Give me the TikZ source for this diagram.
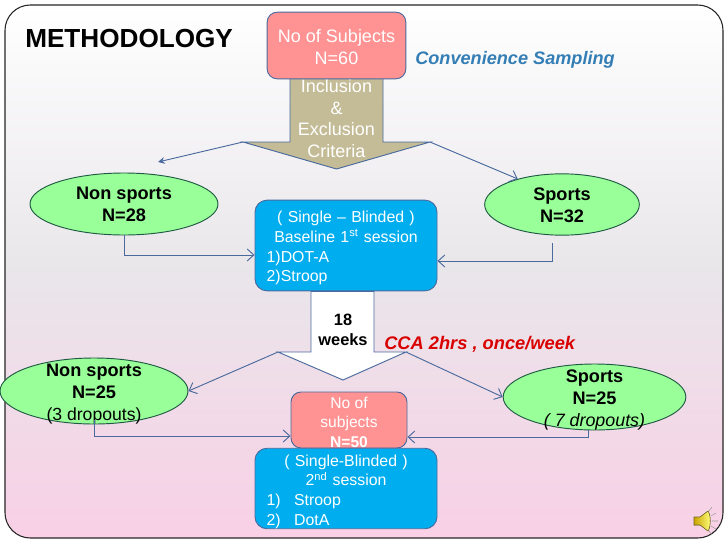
\documentclass[tikz,border=0pt]{standalone}
\usepackage{fontspec}
\setmainfont{Liberation Sans}
\usetikzlibrary{arrows.meta,shapes.geometric}
\definecolor{edgeblue}{HTML}{4A6A9E}
\definecolor{redfill}{HTML}{FF9393}
\definecolor{bluefill}{HTML}{00AEEF}
\definecolor{greenfill}{HTML}{99FF99}
\definecolor{tanfill}{HTML}{C4BC96}
\definecolor{pinkbot}{HTML}{F9D0E6}
\definecolor{midgrey}{HTML}{E9E6EA}
\tikzset{
  redbox/.style={draw=edgeblue,fill=redfill,rounded corners=7.5pt,text=white,align=center,line width=0.7pt,inner sep=0pt},
  bluebox/.style={draw=edgeblue,fill=bluefill,rounded corners=9pt,text=white,line width=0.7pt,inner sep=0pt,minimum width=136.5pt,align=left,text width=119pt},
  oval/.style={draw=edgeblue!70!green!60!black,fill=greenfill,ellipse,line width=0.7pt,inner sep=0pt,text=black},
  blockarrow/.style={draw=edgeblue,line width=0.7pt},
  link/.style={draw=edgeblue,line width=0.7pt,-{Straight Barb[length=5pt,width=9pt]}},
  heading/.style={inner sep=0pt,anchor=west}
}
\newcommand{\ctr}[1]{\hspace*{\fill}#1\hspace*{\fill}\null}
\newcommand{\drop}[1]{\rule{0pt}{#1}}
\newcommand{\zb}[2]{\makebox[0pt]{\smash{\raisebox{-#1}{\begin{tabular}{@{}c@{}}#2\end{tabular}}}}}
\begin{document}
\begin{tikzpicture}[x=0.75pt,y=-0.75pt]
\useasboundingbox (0,0) rectangle (728,546);
\fill[white] (0,0) rectangle (728,546);
% frame
\draw[draw=black!85,line width=0.8pt,rounded corners=19pt,top color=white,bottom color=pinkbot,middle color=midgrey] (5,5) rectangle (723,538);
% block arrow 1
\coordinate (a1l) at (243,142);
\coordinate (a1r) at (430,142);
\coordinate (t1l) at (158,162);
\filldraw[blockarrow,fill=tanfill] (290,70) -- (383,70) -- (383,142) -- (a1r) -- (336.5,169) -- (a1l) -- (290,142) -- cycle;
\node[text=white,align=center,font=\fontsize{13.5}{16.1}\selectfont,inner sep=0pt] (crit) at (336.5,118.5) {Inclusion\\\&\\Exclusion\\Criteria};
% top box
\node[redbox,minimum width=104pt,minimum height=50pt,font=\fontsize{13.5}{16.5}\selectfont] (subj) at (336.5,45.5) {\drop{12pt}No of Subjects\\N=60};
% titles
\node[heading,font=\bfseries\fontsize{19.6}{22}\selectfont] (title) at (25,39) {METHODOLOGY};
\node[heading,text=edgeblue!70!bluefill,font=\bfseries\itshape\fontsize{13.6}{16}\selectfont] (conv) at (415,59.5) {Convenience Sampling};
% ovals
\node[oval,minimum width=141pt,minimum height=46.5pt,font=\bfseries\fontsize{13.6}{16.5}\selectfont] (ns1) at (124,204) {\zb{4.8pt}{Non sports\\N=28}};
\node[oval,minimum width=116pt,minimum height=46pt,font=\bfseries\fontsize{13.6}{16.5}\selectfont] (sp1) at (562,204.5) {\zb{5.3pt}{Sports\\N=32}};
% blue 1
\node[bluebox,minimum height=68pt,font=\fontsize{11.9}{14.8}\selectfont] (b1) at (346,245.5) {\drop{12.5pt}\ctr{( Single – Blinded )}\\\ctr{Baseline 1\textsuperscript{st} session}\\1)DOT-A\\2)Stroop};
% white arrow
\coordinate (a2l) at (278,352);
\coordinate (a2r) at (406,352);
\filldraw[blockarrow,fill=white] (311,291.5) -- (374,291.5) -- (374,352) -- (a2r) -- (343,380) -- (a2l) -- (311,352) -- cycle;
\node[align=center,inner sep=0pt,font=\bfseries\fontsize{12.3}{15.5}\selectfont] (wk) at (343,330) {18\\weeks};
\node[heading,text=red!85!black,font=\bfseries\itshape\fontsize{13.7}{16}\selectfont] (cca) at (384,344.5) {CCA 2hrs , once/week};
% ovals 2
\node[oval,minimum width=141pt,minimum height=49.5pt,font=\fontsize{13.2}{16.5}\selectfont] (ns2) at (94,391) {\zb{5.5pt}{\textbf{\fontsize{13.6}{16.5}\selectfont Non sports}\\\textbf{\fontsize{13.6}{16.5}\selectfont N=25}\\(3 dropouts)}};
\node[oval,minimum width=137pt,minimum height=49.5pt,font=\fontsize{13.4}{16.8}\selectfont] (sp2) at (594.5,397) {\zb{5.9pt}{\textbf{\fontsize{13.6}{16.8}\selectfont Sports}\\\textbf{\fontsize{13.6}{16.8}\selectfont N=25}\\\textit{( 7 dropouts)}}};
% red 2 and blue 2
\node[redbox,minimum width=87pt,minimum height=42pt,font=\fontsize{11.7}{14.8}\selectfont] (sub2) at (349,420) {\drop{12pt}No of\\subjects\\\textbf{N=50}};
\node[bluebox,minimum height=59pt,font=\fontsize{11.9}{14.8}\selectfont] (b2) at (346,488.5) {\drop{13.5pt}\ctr{( Single-Blinded )}\\\ctr{2\textsuperscript{nd} session}\\1)\hspace{10pt}Stroop\\2)\hspace{10pt}DotA};
% connectors
\coordinate (sp1out) at (552,243);
\draw[draw=edgeblue,line width=0.7pt,-{Stealth[length=5pt,width=5pt]}] (a1l) -- (t1l);
\draw[link] (a1r) -- (sp1.150);
\draw[link] (ns1.south) |- ([yshift=-7.1pt]b1.west);
\draw[link] (sp1out) |- ([yshift=-11.6pt]b1.east);
\draw[link] (a2l) -- (ns2.east);
\draw[link] (a2r) -- (sp2.west);
\draw[link] ([yshift=3pt]ns2.south) |- ([yshift=-12pt]sub2.west);
\draw[link] ([xshift=-4.9pt]sp2.south) |- ([yshift=-12.75pt]sub2.east);
% speaker
\filldraw[draw=olive!70!black,left color=yellow!60!orange!80!black,right color=yellow!50!white,line width=0.4pt] (694,517) -- (700,517) -- (708,511) .. controls (711,515) and (711,527) .. (708,531) -- (700,525) -- (694,525) -- cycle;
\draw[gray!80,line width=0.4pt] (711,516) -- (716,513) (712,521) -- (718,521) (711,526) -- (716,529) (709,511) -- (712,507) (709,531) -- (712,535);
\end{tikzpicture}
\end{document}
